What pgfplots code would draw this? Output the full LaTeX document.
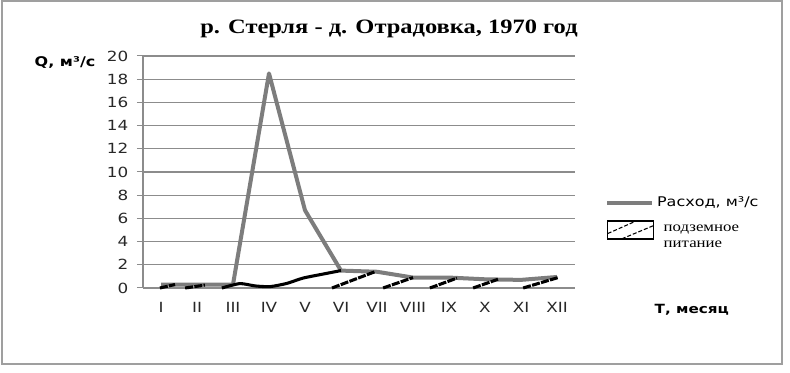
\documentclass[border=0pt]{standalone}
\usepackage{fontspec}
\setmainfont{DejaVu Sans}[FakeStretch=1.2]
\newfontfamily\titlefont{Liberation Serif}[FakeStretch=1.2]
\usepackage{pgfplots}
\pgfplotsset{compat=1.18}

\definecolor{flowgray}{RGB}{125,125,125}
\definecolor{gridgray}{RGB}{140,140,140}
\definecolor{labelgray}{RGB}{40,40,40}

% monthly discharge, m^3/s
\pgfplotstableread{
m   q
1   0.3
2   0.3
3   0.3
4   18.5
5   6.7
6   1.5
7   1.4
8   0.9
9   0.9
10  0.75
11  0.7
12  0.95
}\discharge

\tikzset{hatchstroke/.style={black, line width=2.3pt, dash pattern=on 6pt off 1pt}}

\begin{document}
\begin{tikzpicture}[x=0.75pt,y=0.75pt]
\path[use as bounding box] (0,0) rectangle (790,372);
\draw[gray!75, line width=1.2pt] (2,371) rectangle (782,8);

\node[anchor=base, font=\titlefont\bfseries\fontsize{15.3}{17}\selectfont] at (389,338)
  {р. Стерля - д. Отрадовка, 1970 год};

\begin{axis}[
  at={(107.25pt,63pt)}, anchor=south west,
  scale only axis, width=324pt, height=174pt,
  xmin=0.5, xmax=12.5, ymin=0, ymax=20,
  axis lines=left, axis line style={gridgray, line width=0.9pt, -},
  xtick={1,...,12},
  xticklabels={I,II,III,IV,V,VI,VII,VIII,IX,X,XI,XII},
  major x tick style={draw=none},
  extra x ticks={0.5,1.5,...,12.5},
  extra x tick labels={},
  extra x tick style={major tick length=3.75pt, tick align=outside,
    major tick style={gridgray, line width=0.75pt, draw=gridgray}},
  ytick={0,2,...,20},
  tick align=outside, major tick length=4.5pt,
  tick style={gridgray, line width=0.75pt},
  ymajorgrids, grid style={gridgray, line width=0.9pt},
  /pgf/number format/assume math mode=true,
  ticklabel style={font=\fontsize{10.5}{12}\selectfont, text=labelgray},
  yticklabel style={xshift=-3pt},
  xticklabel style={yshift=-3pt},
  legend style={draw=none, fill=none, at={(1.069,0.405)}, anchor=north west,
    inner sep=0pt, row sep=6.5pt, cells={anchor=west, align=left},
    font=\fontsize{10}{12}\selectfont},
  legend cell align=left,
  clip=false,
]
\addplot[flowgray, line width=3pt, line join=round,
  legend image code/.code={\draw[flowgray, line width=3pt] (0pt,0pt) -- (34pt,0pt);}]
  table[x=m, y=q] {\discharge};
\addlegendentry{Расход, м³/с}

% groundwater feeding: baseflow line and hatching strokes
\addplot[forget plot, hatchstroke] coordinates {(0.97,0) (1.39,0.3)};
\addplot[forget plot, hatchstroke] coordinates {(1.67,0) (2.22,0.25)};
\addplot[forget plot, black, line width=2.3pt, line join=round, smooth, tension=0.4]
  coordinates {(2.69,0) (3.19,0.38) (3.61,0.18) (4.03,0.12) (4.5,0.4) (4.94,0.85) (5.5,1.2) (6.0,1.5)};
\addplot[forget plot, hatchstroke] coordinates {(5.75,0) (6.94,1.4)};
\addplot[forget plot, hatchstroke] coordinates {(7.17,0) (8.0,0.9)};
\addplot[forget plot, hatchstroke] coordinates {(8.47,0) (9.22,0.85)};
\addplot[forget plot, hatchstroke] coordinates {(9.67,0) (10.36,0.75)};
\addplot[forget plot, hatchstroke] coordinates {(11.06,0) (12.03,0.9)};

\addlegendimage{legend image code/.code={
  \draw[black, line width=1pt, fill=white] (0.5pt,-1.5pt) rectangle (35pt,12pt);
  \draw[black, line width=0.8pt, dash pattern=on 3pt off 1.5pt] (0.5pt,2.5pt) -- (22pt,12pt);
  \draw[black, line width=0.8pt, dash pattern=on 3pt off 1.5pt] (11pt,-1.5pt) -- (35pt,8.5pt);
}}
\addlegendentry{\titlefont\fontsize{10.5}{12.5}\selectfont\hspace*{5pt}подземное\\\titlefont\fontsize{10.5}{12.5}\selectfont\hspace*{5pt}питание}
\end{axis}

\node[anchor=west, font=\bfseries\fontsize{10}{12}\selectfont] at (30,309) {Q, м³/с};
\node[anchor=west, font=\bfseries\fontsize{9.5}{12}\selectfont] at (650,62) {Т, месяц};
\end{tikzpicture}
\end{document}
